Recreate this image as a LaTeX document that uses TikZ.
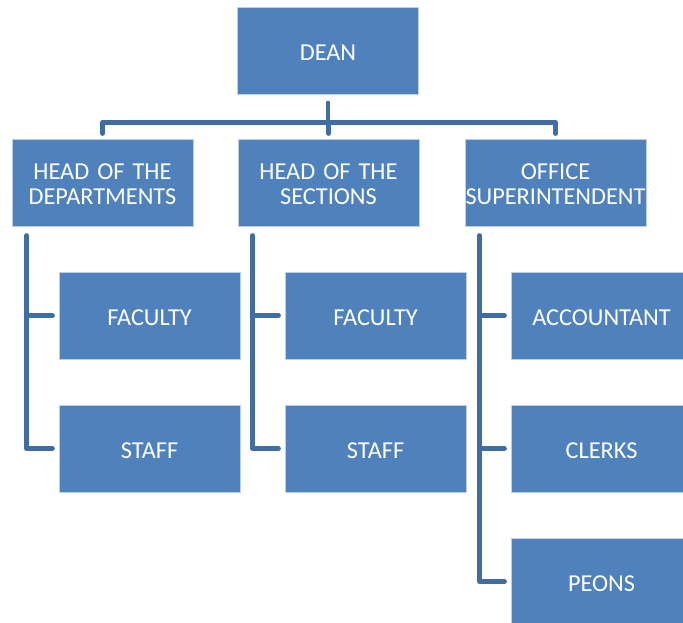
\documentclass[tikz,border=0pt]{standalone}
\usepackage{fontspec}
\setmainfont{Carlito}
\definecolor{boxfill}{HTML}{4F81BD}
\definecolor{boxedge}{HTML}{BFD0E6}
\definecolor{conncol}{HTML}{416DA5}
\newcommand\lowtxt[1]{\raisebox{-2pt}[\height][\depth]{#1}}
\begin{document}
\begin{tikzpicture}[x=1pt,y=-1pt,
  orgbox/.style={rectangle, fill=boxfill, draw=boxedge, line width=0.8pt,
    minimum width=181pt, minimum height=87pt, text width=181pt, inner sep=0pt,
    align=center, text=white, font=\fontsize{24.3}{25}\selectfont},
  conn/.style={draw=conncol, line width=4.5pt, line join=round, line cap=round}]
\useasboundingbox (0,0) rectangle (683,622);
\clip (0,0) rectangle (683,622);
\node[orgbox] (dean) at (328,51) {\lowtxt{DEAN}};
\node[orgbox] (hod) at (102.5,182.5) {\lowtxt{HEAD OF THE}\\\lowtxt{DEPARTMENTS}};
\node[orgbox] (hos) at (328.5,182.5) {\lowtxt{HEAD OF THE}\\\lowtxt{SECTIONS}};
\node[orgbox] (os) at (555.5,182.5) {\lowtxt{OFFICE}\\\lowtxt{SUPERINTENDENT}};
\node[orgbox] (f1) at (149.5,315.5) {\lowtxt{FACULTY}};
\node[orgbox] (s1) at (149.5,448.5) {\lowtxt{STAFF}};
\node[orgbox] (f2) at (375.5,315.5) {\lowtxt{FACULTY}};
\node[orgbox] (s2) at (375.5,448.5) {\lowtxt{STAFF}};
\node[orgbox] (acc) at (601.5,315.5) {\lowtxt{ACCOUNTANT}};
\node[orgbox] (clk) at (601.5,448.5) {\lowtxt{CLERKS}};
\node[orgbox] (peo) at (601.5,581.5) {\lowtxt{PEONS}};
% top connectors
\draw[conn] ([yshift=-8pt]dean.south) -- ([yshift=-28pt]dean.south);
\draw[conn] ([yshift=5pt]hod.north) |- ([yshift=16pt]os.north) -- ([yshift=5pt]os.north);
\draw[conn] ([yshift=5pt]hos.north) -- ([yshift=16pt]hos.north);
% columns
\coordinate (c1) at ([xshift=15pt,yshift=-9pt]hod.south west);
\coordinate (c2) at ([xshift=15pt,yshift=-9pt]hos.south west);
\coordinate (c3) at ([xshift=15pt,yshift=-9pt]os.south west);
\draw[conn] (c1) |- ([xshift=-6pt]s1.west);
\draw[conn] (c1 |- f1.west) -- ([xshift=-6pt]f1.west);
\draw[conn] (c2) |- ([xshift=-6pt]s2.west);
\draw[conn] (c2 |- f2.west) -- ([xshift=-6pt]f2.west);
\draw[conn] (c3) |- ([xshift=-6pt]peo.west);
\draw[conn] (c3 |- acc.west) -- ([xshift=-6pt]acc.west);
\draw[conn] (c3 |- clk.west) -- ([xshift=-6pt]clk.west);
\end{tikzpicture}
\end{document}
